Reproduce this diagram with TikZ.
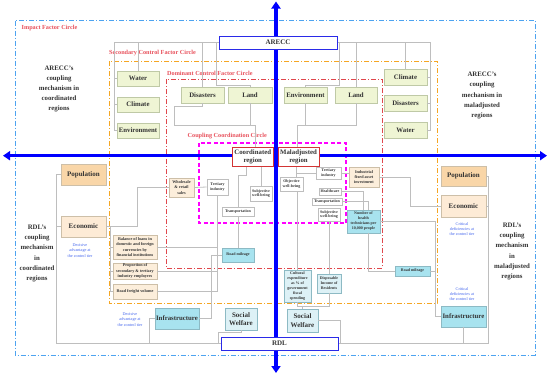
\documentclass[tikz,border=0pt]{standalone}
\usepackage{fontspec}
\setmainfont{Liberation Serif}
\usetikzlibrary{arrows.meta,calc}
\definecolor{axisblue}{HTML}{0000FF}
\definecolor{outerblue}{HTML}{4DA3F0}
\definecolor{orng}{HTML}{F5A623}
\definecolor{redc}{HTML}{E0474C}
\definecolor{magc}{HTML}{FF00FF}
\definecolor{lbl}{HTML}{E8505B}
\definecolor{gfill}{HTML}{EFF5D4}
\definecolor{gbord}{HTML}{BFC9A6}
\definecolor{pfill}{HTML}{F9D6A8}
\definecolor{efill}{HTML}{FDEBD6}
\definecolor{bfill}{HTML}{FCEEDB}
\definecolor{bbord}{HTML}{CDBFA8}
\definecolor{cfill}{HTML}{A8E3EF}
\definecolor{cbord}{HTML}{8DBAC4}
\definecolor{sfill}{HTML}{DDF1F6}
\definecolor{linegray}{HTML}{BEBEBE}
\definecolor{txt}{HTML}{333333}
\definecolor{bluetxt}{HTML}{4466EE}
\definecolor{boxblue}{HTML}{2A2AE8}
\definecolor{boxred}{HTML}{D23434}
\begin{document}
\begin{tikzpicture}[x=1pt,y=-1pt,
  conn/.style={draw=linegray, line width=0.8pt},
  dashdot/.style={dash pattern=on 5pt off 2pt on 1pt off 2pt},
  circlbl/.style={anchor=west, inner sep=0pt, text=lbl, font=\bfseries\fontsize{6.2}{7}\selectfont},
  box/.style={inner sep=0pt, align=center, text=txt, line width=0.6pt},
  sz/.style 2 args={minimum width=#1pt, minimum height=#2pt},
  gbox/.style={box, draw=gbord, fill=gfill, font=\bfseries\fontsize{6.8}{8}\selectfont},
  pbox/.style={box, draw=bbord, fill=pfill, font=\bfseries\fontsize{7}{8}\selectfont},
  ebox/.style={box, draw=bbord, fill=efill, font=\bfseries\fontsize{7}{8}\selectfont},
  cbox/.style={box, draw=cbord, fill=cfill, font=\bfseries\fontsize{6.8}{8}\selectfont},
  swbox/.style={box, draw=cbord, fill=sfill, font=\bfseries\fontsize{7}{8.5}\selectfont},
  tb/.style={box, draw=bbord, fill=bfill, font=\bfseries\fontsize{4.2}{5.2}\selectfont},
  tc/.style={box, draw=cbord, fill=cfill, font=\bfseries\fontsize{4}{5}\selectfont},
  ts/.style={box, draw=cbord, fill=sfill, font=\bfseries\fontsize{4}{5}\selectfont},
  tw/.style={box, draw=linegray, fill=white, font=\bfseries\fontsize{4}{4.8}\selectfont},
  axbox/.style={box, draw=boxblue, fill=white, line width=0.9pt, font=\bfseries\fontsize{7}{8}\selectfont},
  rgbox/.style={box, draw=boxred, fill=white, line width=0.9pt, font=\bfseries\fontsize{6.8}{8.2}\selectfont},
  mech/.style={align=center, inner sep=0pt, text=txt, font=\bfseries\fontsize{6.8}{10.2}\selectfont},
  bnote/.style={align=center, inner sep=0pt, text=bluetxt, font=\fontsize{4.2}{5.3}\selectfont},
  axis/.style={draw=axisblue, line width=3.5pt, {Triangle[length=7pt,width=9pt]}-{Triangle[length=7pt,width=9pt]}}
]
\useasboundingbox (0,0) rectangle (550,375);
\fill[white] (0,0) rectangle (550,375);

% ---------- circles ----------
\draw[outerblue, line width=1pt, dashdot] (15,20.7) rectangle (535,355);
\draw[orng, line width=1pt, dashdot] (109,61) rectangle (437,303);
\draw[redc, line width=1pt, dashdot] (166,79) rectangle (382,268);
\draw[magc, line width=1.2pt, dash pattern=on 4pt off 2.5pt] (199,143) rectangle (346,223);
\node[circlbl] (lImpact) at (21.5,28) {Impact Factor Circle};
\node[circlbl] (lSec) at (109,53.5) {Secondary Control Factor Circle};
\node[circlbl] (lDom) at (167,73.5) {Dominant Control Factor Circle};
\node[circlbl] (lCoup) at (187.5,136.5) {Coupling Coordination Circle};

% ---------- nodes ----------
\node[axbox, sz={118}{13}] (arecc) at (278,42.5) {ARECC};
\node[axbox, sz={117}{13}] (rdl) at (279.5,343.5) {RDL};

\node[gbox, sz={42}{15}] (wL) at (138,78.5) {Water};
\node[gbox, sz={42}{15}] (cL) at (138,104.5) {Climate};
\node[gbox, sz={42}{15}] (eL) at (138,130.5) {Environment};
\node[gbox, sz={43}{16}] (dD) at (202.5,95) {Disasters};
\node[gbox, sz={44}{16}] (lD) at (250,95) {Land};
\node[gbox, sz={43}{16}] (eD) at (305.5,95) {Environment};
\node[gbox, sz={42}{16}] (lD2) at (356,95) {Land};
\node[gbox, sz={43}{16}] (cR) at (405.5,77) {Climate};
\node[gbox, sz={43}{16}] (dR) at (405.5,103) {Disasters};
\node[gbox, sz={43}{16}] (wR) at (405.5,130) {Water};

\node[rgbox, sz={41.5}{19}] (coord) at (252.75,156.5) {Coordinated\\region};
\node[rgbox, sz={41}{19}] (mal) at (298.5,156.5) {Maladjusted\\region};

\node[pbox, sz={45}{21}] (popL) at (83.5,174.5) {Population};
\node[ebox, sz={45}{21}] (econL) at (83.5,226.5) {Economic};
\node[tb, sz={25}{19}] (wholesale) at (181.5,187.5) {Wholesale\\\& retail\\sales};
\node[tw, sz={21}{16}] (tertL) at (217.5,187) {Tertiary\\industry};
\node[tw, sz={22}{15}] (subjL) at (261,193.5) {Subjective\\well-being};
\node[tw, sz={32}{9}] (transL) at (238,211.5) {Transportation};
\node[tc, sz={32}{14}] (roadL) at (238,255) {Road mileage};
\node[tb, sz={44}{24}] (balance) at (135,247) {Balance of loans in\\domestic and foreign\\currencies by\\financial institutions};
\node[tb, sz={44}{16}] (prop) at (135,271) {Proportion of\\secondary \& tertiary\\industry employees};
\node[tb, sz={44}{15}] (freight) at (135,291.5) {Road freight volume};
\node[cbox, sz={44}{21}] (infL) at (177,318.5) {Infrastructure};
\node[swbox, sz={32}{22}] (swL) at (241,319) {Social\\Welfare};

\node[tw, sz={25}{12}] (tertR) at (328.5,173) {Tertiary\\industry};
\node[tb, sz={30}{20}] (industrial) at (364,177) {Industrial\\fixed asset\\investment};
\node[tw, sz={23}{14}] (objective) at (291.5,184) {Objective\\well-being};
\node[tw, sz={22}{7}] (healthcare) at (330,191.5) {Healthcare};
\node[tw, sz={30}{7}] (transR) at (327,201.5) {Transportation};
\node[tw, sz={22}{13}] (subjR) at (329,214.5) {Subjective\\well-being};
\node[tc, sz={33}{23}] (number) at (363.5,221.5) {Number of\\health\\technicians per\\10,000 people};
\node[ts, sz={27}{32}] (cultural) at (297.5,286) {Cultural\\expenditure\\as \% of\\government\\fiscal\\spending};
\node[ts, sz={24}{19}] (disposable) at (329,283.5) {Disposable\\Income of\\Residents};
\node[swbox, sz={31}{23}] (swR) at (302.5,320.5) {Social\\Welfare};
\node[tc, sz={35}{10}] (roadR) at (412.5,271) {Road mileage};
\node[pbox, sz={45}{20}] (popR) at (463.5,176) {Population};
\node[ebox, sz={45}{22}] (econR) at (463.5,206) {Economic};
\node[cbox, sz={45}{21}] (infR) at (463.5,316.5) {Infrastructure};

% ---------- texts ----------
\node[mech] (mechAL) at (59,89) {ARECC’s\\coupling\\mechanism in\\coordinated\\regions};
\node[mech] (mechAR) at (482,95.5) {ARECC’s\\coupling\\mechanism in\\maladjusted\\regions};
\node[mech] (mechRL) at (37,253.5) {RDL’s\\coupling\\mechanism\\in\\coordinated\\regions};
\node[mech] (mechRR) at (512,251.5) {RDL’s\\coupling\\mechanism\\in\\maladjusted\\regions};
\node[bnote] (decA) at (80,250.5) {Decisive\\advantage at\\the control tier};
\node[bnote] (decB) at (130,319.5) {Decisive\\advantage at\\the control tier};
\node[bnote] (critA) at (462,229) {Critical\\deficiencies at\\the control tier};
\node[bnote] (critB) at (462,294) {Critical\\deficiencies at\\the control tier};

% ---------- connectors ----------
% top left
\coordinate (tlA) at (114,42.5);
\draw[conn] (arecc.west) -- (tlA) |- (eL.west);
\draw[conn] (tlA |- wL.west) -- (wL.west);
\draw[conn] (tlA |- cL.west) -- (cL.west);
\draw[conn] (wL.north) -- (wL.north |- arecc.west);
\draw[conn] (dD.north) -- (dD.north |- arecc.west);
\coordinate (tlB) at (216,42.5);
\coordinate (tlC) at (250,85);
\draw[conn] (tlB) |- (tlC) -- (lD.north);
% top right
\coordinate (trA) at (430,42.5);
\draw[conn] (arecc.east) -- (trA) |- (wR.east);
\draw[conn] (trA |- cR.east) -- (cR.east);
\draw[conn] (trA |- dR.east) -- (dR.east);
\draw[conn] (cR.north) -- (cR.north |- arecc.east);
\draw[conn] (lD2.north) -- (lD2.north |- arecc.east);
\coordinate (trB) at (339,42.5);
\coordinate (trC) at (305.5,85);
\draw[conn] (trB) |- (trC) -- (eD.north);
% middle
\coordinate (mlA) at (174,106);
\coordinate (mlB) at (255,125);
\draw[conn] (dD.south) |- (mlA) |- (mlB) -- (mlB |- coord.north);
\draw[conn] (lD.south) -- (lD.south |- mlB);
\coordinate (mrA) at (297,125);
\draw[conn] (mal.north -| mrA) -- (mrA) -- (lD2.south |- mrA) -- (lD2.south);
\draw[conn] (eD.south) -- (eD.south |- mrA);
% coordinated side
\coordinate (cbA) at (246,175);
\draw[conn] (coord.south -| cbA) -- (cbA) -| (transL.north);
\draw[conn] (subjL.north |- coord.south) -- (subjL.north);
\draw[conn] (wholesale.east) -- (tertL.west);
\draw[conn] (transL.south) -- (roadL.north);
\draw[conn] (tertL.south) -- (tertL.south |- freight.east) -- (freight.east);
\draw[conn] (prop.east) -- (prop.east -| tertL.south);
\draw[conn] (balance.east) -- (balance.east -| tertL.south);
\coordinate (ivA) at (211,318.5);
\draw[conn] (infL.east) -- (ivA) |- (roadL.west);
\coordinate (ewA) at (137,226.5);
\draw[conn] (econL.east) -- (ewA) |- (wholesale.west);
\coordinate (evA) at (110.5,226.5);
\draw[conn] (evA) |- (freight.west);
\draw[conn] (evA |- balance.west) -- (balance.west);
\draw[conn] (evA |- prop.west) -- (prop.west);
\coordinate (lbA) at (56,174.5);
\coordinate (lbB) at (56,343.5);
\draw[conn] (popL.west) -- (lbA) -- (lbB) -- (rdl.west);
\draw[conn] (econL.west) -- (econL.west -| lbA);
\coordinate (ilA) at (149,318.5);
\draw[conn] (infL.west) -- (ilA) -- (ilA |- rdl.west);
\coordinate (swA) at (218,332.5);
\draw[conn] (swL.south) |- (swA) -- (swA |- rdl.west);
% maladjusted side
\coordinate (maA) at (296,173);
\draw[conn] (mal.south -| maA) -- (maA |- objective.north);
\draw[conn] (maA) -- (tertR.west);
\draw[conn] (tertR.east) -- (tertR.east -| industrial.west);
\coordinate (inA) at (410,177);
\draw[conn] (industrial.east) -- (inA) |- (econR.west);
\draw[conn] (healthcare.east) -| (number.north);
\coordinate (nbA) at (368,210);
\draw[conn] (transR.east) -| (nbA);
\coordinate (nrA) at (435,221.5);
\draw[conn] (number.east) -- (nrA) |- (infR.west);
\draw[conn] (roadR.east) -- (roadR.east -| nrA);
\draw[conn] (number.south -| nbA) |- (roadR.west);
\draw[conn] (objective.south -| cultural.north) -- (cultural.north);
\draw[conn] (subjR.south) -- (subjR.south |- disposable.north);
\coordinate (swrA) at (302.5,306);
\draw[conn] (cultural.south) -- (cultural.south |- swrA) -- (disposable.south |- swrA) -- (disposable.south);
\draw[conn] (swrA) -- (swR.north);
\coordinate (swrB) at (340,320.5);
\draw[conn] (swR.east) -- (swrB) -- (swrB |- rdl.east);
\coordinate (rbA) at (488,343.5);
\draw[conn] (rdl.east) -- (rbA) |- (popR.east);
\draw[conn] (econR.east) -- (econR.east -| rbA);
\draw[conn] (infR.south) -- (infR.south |- rdl.east);

% ---------- axes ----------
\coordinate (axT) at (276,1.5);
\coordinate (axB) at (276,373);
\coordinate (axLf) at (3,155.7);
\coordinate (axRt) at (547,155.7);
\draw[axis] (axLf) -- (axRt);
\draw[axis] (axT) -- (axB);

% boxes that sit on the axes, redrawn on top
\node[axbox, sz={118}{13}] (areccTop) at (arecc) {ARECC};
\node[axbox, sz={117}{13}] (rdlTop) at (rdl) {RDL};
\node[rgbox, sz={41.5}{19}] (coordTop) at (coord) {Coordinated\\region};
\node[rgbox, sz={41}{19}] (malTop) at (mal) {Maladjusted\\region};
\end{tikzpicture}
\end{document}
